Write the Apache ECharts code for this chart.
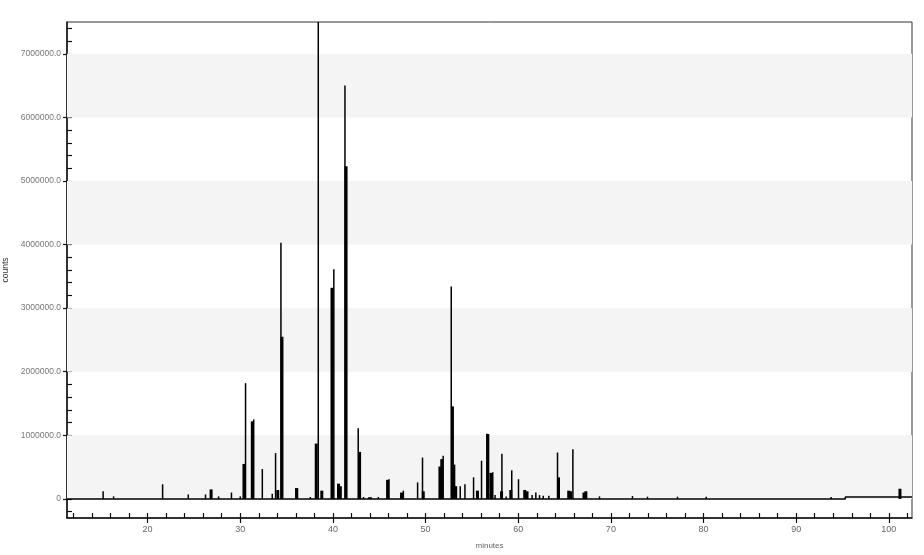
<!DOCTYPE html>
<html><head><meta charset="utf-8">
<script src="https://cdn.jsdelivr.net/npm/echarts@6/dist/echarts.min.js"></script>
<style>html,body{margin:0;padding:0;background:#fff}#c{width:924px;height:555px}</style>
</head><body><div id="c"></div>
<script>
// Apex (thin) peaks: retention time (minutes) and counts
const peakTimes   = [15.2, 16.33, 21.62, 24.39, 26.25, 27.66, 29.05, 30.0, 30.57, 31.45, 32.38, 33.45, 33.81, 34.39, 36.0, 37.56, 38.42, 40.1, 41.3, 42.73, 43.3, 43.9, 44.1, 44.9, 46.05, 47.6, 49.14, 49.67, 51.9, 52.77, 53.74, 54.25, 55.18, 56.04, 56.62, 57.25, 57.5, 58.24, 58.7, 59.3, 60.03, 61.5, 61.9, 62.3, 62.7, 63.3, 64.24, 65.9, 68.77, 72.33, 73.95, 77.19, 80.29, 93.77];
const peakHeights = [120000, 40000, 230000, 70000, 70000, 40000, 100000, 40000, 1820000, 1250000, 470000, 80000, 720000, 4030000, 170000, 30000, 9000000, 3610000, 6500000, 1110000, 30000, 30000, 30000, 30000, 310000, 130000, 260000, 650000, 680000, 3340000, 200000, 230000, 340000, 600000, 1025000, 420000, 60000, 710000, 40000, 450000, 310000, 60000, 100000, 60000, 50000, 50000, 730000, 780000, 40000, 45000, 35000, 35000, 35000, 30000];
// Peak bodies (thicker parts next to the apex)
const bodyTimes   = [26.85, 30.4, 31.3, 34.05, 34.5, 36.1, 38.2, 38.8, 39.9, 40.6, 40.8, 41.42, 42.88, 45.9, 47.4, 49.75, 51.55, 51.75, 52.9, 53.05, 53.25, 55.6, 56.72, 57.05, 58.2, 59.2, 60.7, 60.95, 64.35, 65.45, 65.65, 67.1, 67.3, 101.2];
const bodyHeights = [150000, 550000, 1220000, 140000, 2550000, 170000, 870000, 130000, 3320000, 240000, 200000, 5230000, 740000, 300000, 100000, 120000, 510000, 626000, 1455000, 540000, 200000, 130000, 1020000, 410000, 120000, 140000, 140000, 120000, 340000, 130000, 120000, 100000, 120000, 160000];
// Baseline trace
const baseTimes  = [11.3, 95.3, 95.3, 102.5];
const baseValues = [0, 0, 32000, 32000];
// Axes
const xMajorTicks = [20, 30, 40, 50, 60, 70, 80, 90, 100];
const xMinorTicks = [12,14,16,18,20,22,24,26,28,30,32,34,36,38,40,42,44,46,48,50,52,54,56,58,60,62,64,66,68,70,72,74,76,78,80,82,84,86,88,90,92,94,96,98,100,102];
const yMajorTicks = [0, 1000000, 2000000, 3000000, 4000000, 5000000, 6000000, 7000000];
const yMinorTicks = [-200000,0,200000,400000,600000,800000,1000000,1200000,1400000,1600000,1800000,2000000,2200000,2400000,2600000,2800000,3000000,3200000,3400000,3600000,3800000,4000000,4200000,4400000,4600000,4800000,5000000,5200000,5400000,5600000,5800000,6000000,6200000,6400000,6600000,6800000,7000000,7200000,7400000];
const bandRanges = [[0, 1000000], [2000000, 3000000], [4000000, 5000000], [6000000, 7000000]];

const X_MIN = 11.3, X_MAX = 102.5, Y_MIN = -300000, Y_MAX = 7500000;
const FONT = '"Liberation Sans", Arial, sans-serif';

const chart = echarts.init(document.getElementById('c'), null, {renderer: 'canvas'});
chart.setOption({
  animation: false,
  backgroundColor: '#fff',
  grid: {left: 67, right: 12, top: 22, bottom: 37, outerBoundsMode: 'none', containLabel: false,
    show: true, borderColor: '#333', borderWidth: 1, backgroundColor: 'transparent'},
  xAxis: [{
    type: 'value', min: X_MIN, max: X_MAX, position: 'bottom',
    name: 'minutes', nameLocation: 'middle', nameGap: 24,
    nameTextStyle: {fontFamily: FONT, fontSize: 8, color: '#666'},
    axisLine: {onZero: false, lineStyle: {color: '#111', width: 1.5}},
    axisTick: {customValues: xMajorTicks, inside: false, length: 5, lineStyle: {color: '#111', width: 1.2}},
    axisLabel: {customValues: xMajorTicks, margin: 7, fontFamily: FONT, fontSize: 9, color: '#666'},
    splitLine: {show: false}
  }, {
    type: 'value', min: X_MIN, max: X_MAX, position: 'bottom', offset: 0,
    axisLine: {show: false, onZero: false},
    axisTick: {show: true, customValues: xMinorTicks, inside: true, length: 5, lineStyle: {color: '#111', width: 1.2}},
    axisLabel: {show: false},
    splitLine: {show: false}
  }],
  yAxis: [{
    type: 'value', min: Y_MIN, max: Y_MAX, position: 'left',
    name: 'counts', nameLocation: 'middle', nameGap: 56, nameRotate: 90,
    nameTextStyle: {fontFamily: FONT, fontSize: 8.5, color: '#333'},
    axisLine: {show: true, onZero: false, lineStyle: {color: '#111', width: 1.5}},
    axisTick: {customValues: yMajorTicks, inside: false, length: 4, lineStyle: {color: '#111', width: 1.2}},
    axisLabel: {customValues: yMajorTicks, margin: 6, fontFamily: FONT, fontSize: 8.5, color: '#777',
      formatter: v => v === 0 ? '0' : v.toFixed(1)},
    splitLine: {show: false}
  }, {
    type: 'value', min: Y_MIN, max: Y_MAX, position: 'left', offset: 0,
    axisLine: {show: false, onZero: false},
    axisTick: {show: true, customValues: yMinorTicks, inside: true, length: 5, lineStyle: {color: '#111', width: 1.2}},
    axisLabel: {show: false},
    splitLine: {show: false}
  }],
  series: [{
    type: 'line', xAxisIndex: 0, yAxisIndex: 0, z: 1,
    data: baseTimes.map((t, i) => [t, baseValues[i]]),
    showSymbol: false, lineStyle: {color: '#000', width: 1.5},
    markArea: {silent: true, itemStyle: {color: '#f4f4f4'},
      data: bandRanges.map(r => [{yAxis: r[0]}, {yAxis: r[1]}])}
  }, {
    type: 'bar', xAxisIndex: 0, yAxisIndex: 0, z: 3, barWidth: 1.5, clip: true,
    data: peakTimes.map((t, i) => [t, peakHeights[i]]),
    itemStyle: {color: '#000'}
  }, {
    type: 'bar', xAxisIndex: 1, yAxisIndex: 1, z: 3, barWidth: 3, clip: true,
    data: bodyTimes.map((t, i) => [t, bodyHeights[i]]),
    itemStyle: {color: '#000'}
  }]
});
</script></body></html>
